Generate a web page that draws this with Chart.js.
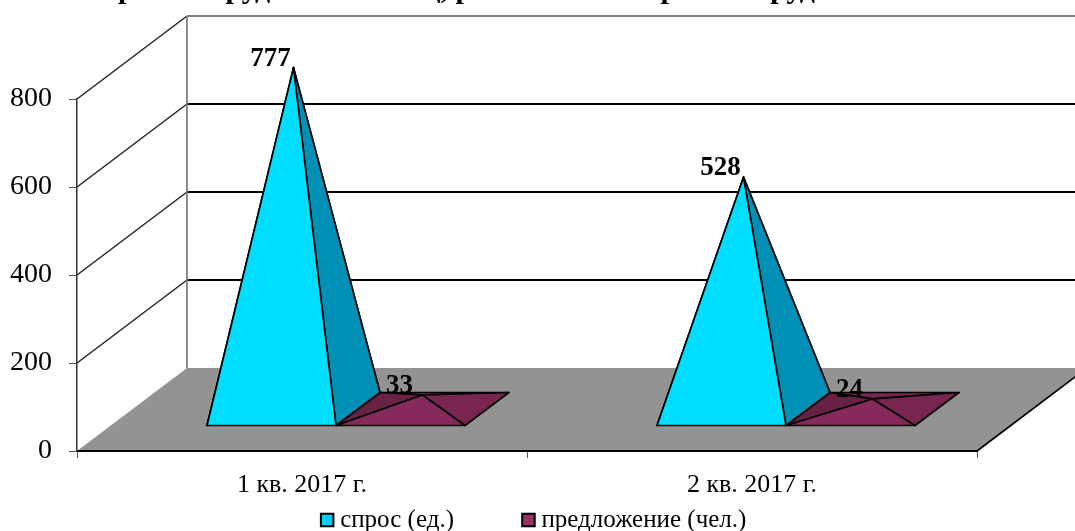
<!DOCTYPE html>
<html>
<head>
<meta charset="utf-8">
<style>
  body { margin: 0; background: #fff; }
  canvas { display: block; }
</style>
<script src="https://cdn.jsdelivr.net/npm/chart.js@4/dist/chart.umd.min.js"></script>
</head>
<body>
<canvas id="chart" width="1075" height="531"></canvas>
<script>
// only the feet of the title letters show in the reference, wording is a best guess
const titleText = "Спрос на труд и число лиц, работников на рынке труда";
const categories = ["1 кв. 2017 г.", "2 кв. 2017 г."];
const demandLabel = "спрос (ед.)";
const supplyLabel = "предложение (чел.)";
const demandValues = [777, 528];
const supplyValues = [33, 24];
const yTicks = [0, 200, 400, 600, 800];

const FONT = '"Liberation Serif", "Times New Roman", serif';

// how far the back wall sits from the front plane, in px
const wallDx = 110;
const wallDy = -83;
// where the bar fronts stand on the floor, and how deep they are
const barDx = 34;
const barDy = -25;
const barDepthX = 44;
const barDepthY = -33;

const faceColors = [
  { front: "#00DDFF", right: "#0090B6", left: "#0080A0", back: "#0080A0" },
  { front: "#852A5A", right: "#78264F", left: "#682245", back: "#78264F" }
];

function poly(ctx, pts, fill, stroke, width) {
  ctx.beginPath();
  ctx.moveTo(pts[0][0], pts[0][1]);
  for (let i = 1; i < pts.length; i++) ctx.lineTo(pts[i][0], pts[i][1]);
  ctx.closePath();
  if (fill) {
    ctx.fillStyle = fill;
    ctx.fill();
  }
  if (stroke) {
    ctx.strokeStyle = stroke;
    ctx.lineWidth = width || 1.7;
    ctx.lineJoin = "round";
    ctx.stroke();
  }
}

function line(ctx, x1, y1, x2, y2, color, width) {
  ctx.beginPath();
  ctx.moveTo(x1, y1);
  ctx.lineTo(x2, y2);
  ctx.strokeStyle = color;
  ctx.lineWidth = width;
  ctx.stroke();
}

// floor, side wall and back wall, worked out from the scales
const roomPlugin = {
  id: "room",
  beforeDraw(chart) {
    const ctx = chart.ctx;
    const xs = chart.scales.x;
    const ys = chart.scales.y;
    const y0 = ys.getPixelForValue(0);
    ctx.save();
    poly(ctx, [
      [xs.left, y0],
      [xs.right, y0],
      [xs.right + wallDx, y0 + wallDy],
      [xs.left + wallDx, y0 + wallDy]
    ], "#939393");
    line(ctx, xs.right, y0, xs.right + wallDx, y0 + wallDy, "#000", 1.7);
    yTicks.forEach((v) => {
      const y = ys.getPixelForValue(v);
      if (v > 0) {
        const top = v === yTicks[yTicks.length - 1];
        line(ctx, xs.left, y, xs.left + wallDx, y + wallDy, "#222", 1.5);
        line(ctx, xs.left + wallDx, y + wallDy, xs.right + wallDx, y + wallDy, top ? "#808080" : "#000", 1.8);
      }
    });
    line(ctx, xs.left + wallDx, ys.getPixelForValue(800) + wallDy, xs.left + wallDx, y0 + wallDy, "#808080", 1.8);
    ctx.restore();
  },
  // swap each flat bar for a pyramid on the same scale position
  beforeDatasetDraw(chart, args) {
    const ctx = chart.ctx;
    const colors = faceColors[args.index];
    args.meta.data.forEach((bar) => {
      const props = bar.getProps(["x", "y", "base", "width"], true);
      const xl = props.x - props.width / 2 + barDx;
      const xr = props.x + props.width / 2 + barDx;
      const yb = props.base + barDy;
      const fl = [xl, yb];
      const fr = [xr, yb];
      const bl = [xl + barDepthX, yb + barDepthY];
      const br = [xr + barDepthX, yb + barDepthY];
      const apex = [
        props.x + barDx + barDepthX / 2,
        yb + barDepthY / 2 + (props.y - props.base)
      ];
      ctx.save();
      poly(ctx, [bl, br, apex], colors.back, "#000");
      poly(ctx, [fl, bl, apex], colors.left, "#000");
      poly(ctx, [fr, br, apex], colors.right, "#000");
      poly(ctx, [fl, fr, apex], colors.front, "#000");
      ctx.restore();
    });
    return false;
  },
  afterDatasetsDraw(chart) {
    const ctx = chart.ctx;
    ctx.save();
    ctx.fillStyle = "#000";
    ctx.font = "bold 27px " + FONT;
    ctx.textAlign = "center";
    ctx.textBaseline = "middle";
    chart.data.datasets.forEach((ds, di) => {
      chart.getDatasetMeta(di).data.forEach((bar, i) => {
        const props = bar.getProps(["x", "y", "base"], true);
        const ax = props.x + barDx + barDepthX / 2;
        const ay = props.base + barDy + barDepthY / 2 + (props.y - props.base);
        ctx.fillText(ds.data[i], ax - 23, ay - 9);
      });
    });
    ctx.restore();
  },
  afterLayout(chart) {
    // legend and title sit off the plot centre in the reference
    chart.legend.left += 48;
    chart.legend.right += 48;
    chart.legend.top = 433.5;
    chart.titleBlock.left -= 34;
    chart.titleBlock.right -= 34;
  }
};

new Chart(document.getElementById("chart"), {
  type: "bar",
  data: {
    labels: categories,
    datasets: [
      { label: demandLabel, data: demandValues, backgroundColor: "#00CCFF", borderColor: "#000", borderWidth: 2 },
      { label: supplyLabel, data: supplyValues, backgroundColor: "#993366", borderColor: "#000", borderWidth: 2 }
    ]
  },
  options: {
    responsive: false,
    animation: false,
    layout: { padding: { left: 0, right: 98, top: 0, bottom: -84 } },
    datasets: { bar: { categoryPercentage: 0.5733, barPercentage: 1 } },
    scales: {
      x: {
        afterFit(scale) { scale.height = 55; },
        grid: { drawOnChartArea: false, color: "#555", tickLength: 7 },
        border: { color: "#000", width: 2 },
        ticks: { color: "#000", padding: 12, font: { family: FONT, size: 26 } }
      },
      y: {
        min: 0,
        max: 800,
        afterFit(scale) { scale.width = 77; },
        afterBuildTicks(scale) { scale.ticks = yTicks.map((v) => ({ value: v })); },
        grid: { drawOnChartArea: false, color: "#555", tickLength: 8 },
        border: { color: "#333", width: 1.5 },
        ticks: { color: "#000", padding: 17, font: { family: FONT, size: 28 } }
      }
    },
    plugins: {
      title: {
        display: true,
        text: titleText,
        color: "#000",
        font: { family: FONT, size: 30, weight: "bold" },
        padding: { top: -28, bottom: 91 }
      },
      legend: {
        position: "bottom",
        labels: {
          color: "#000",
          font: { family: FONT, size: 25 },
          usePointStyle: true,
          pointStyle: "rect",
          boxWidth: 1,
          boxHeight: 12.5,
          padding: 74
        }
      },
      tooltip: { enabled: false }
    }
  },
  plugins: [roomPlugin]
});
</script>
</body>
</html>
